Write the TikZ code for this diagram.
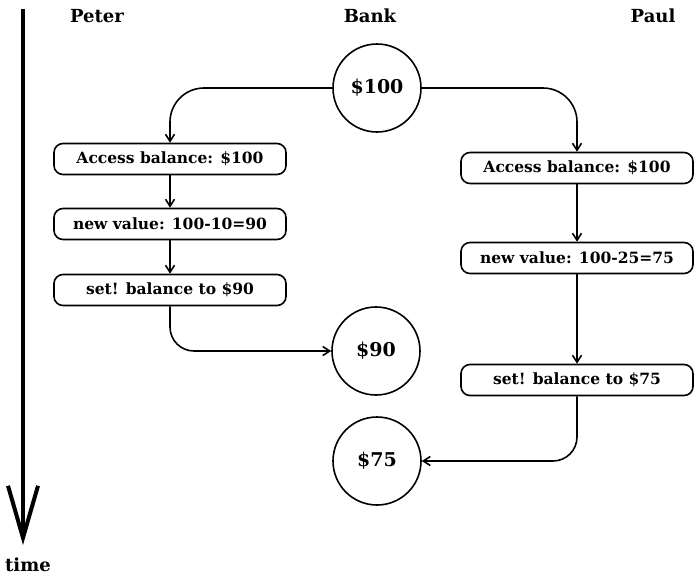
\documentclass[tikz,border=0pt]{standalone}
\usepackage{fontspec}
\setmainfont{DejaVu Serif}
\usepackage{tikz}
\usetikzlibrary{positioning,arrows.meta,calc}
\tikzset{
  base/.style={draw,line width=1.6pt,align=center,inner sep=2pt},
  acct/.style={base,circle,minimum size=88pt,font=\fontsize{19}{22}\selectfont\bfseries},
  stepbox/.style={base,rounded corners=9pt,minimum width=232pt,minimum height=31pt,
    font=\fontsize{15.5}{18}\selectfont\bfseries},
  who/.style={font=\fontsize{18}{21}\selectfont\bfseries,inner sep=0pt},
  arr/.style={-{Straight Barb[length=7pt,width=9pt]},line width=1.6pt},
  timearr/.style={-{Straight Barb[length=52pt,width=30pt]},line width=4pt}}
\begin{document}
\begin{tikzpicture}[x=1pt,y=-1pt]
\useasboundingbox (0,0) rectangle (695,576);
% column heads
\node[who] (peter) at (97,16) {Peter};
\node[who] (bank) at (370,16) {Bank};
\node[who] (paul) at (653,16) {Paul};
% time axis
\coordinate (t0) at (23,9);
\coordinate (t1) at (23,545);
\draw[timearr] (t0) -- (t1);
\node[who] (time) at (28,565) {time};
% bank balances
\node[acct] (b100) at (377,88) {\$100};
\node[acct] (b90) at (376,351) {\$90};
\node[acct] (b75) at (377,461) {\$75};
% Peter
\node[stepbox] (pa) at (170,159) {Access balance: \$100};
\node[stepbox] (pn) at (170,224) {new value: 100-10=90};
\node[stepbox] (ps) at (170,290) {set! balance to \$90};
% Paul
\node[stepbox] (qa) at (577,168) {Access balance: \$100};
\node[stepbox] (qn) at (577,258) {new value: 100-25=75};
\node[stepbox] (qs) at (577,380) {set! balance to \$75};
\draw[arr, rounded corners=34pt] (b100.west) -| (pa.north);
\draw[arr] (pa) -- (pn); \draw[arr] (pn) -- (ps);
\draw[arr, rounded corners=24pt] (ps.south) |- (b90.west);
\draw[arr, rounded corners=34pt] (b100.east) -| (qa.north);
\draw[arr] (qa) -- (qn); \draw[arr] (qn) -- (qs);
\draw[arr, rounded corners=24pt] (qs.south) |- (b75.east);
\end{tikzpicture}
\end{document}
